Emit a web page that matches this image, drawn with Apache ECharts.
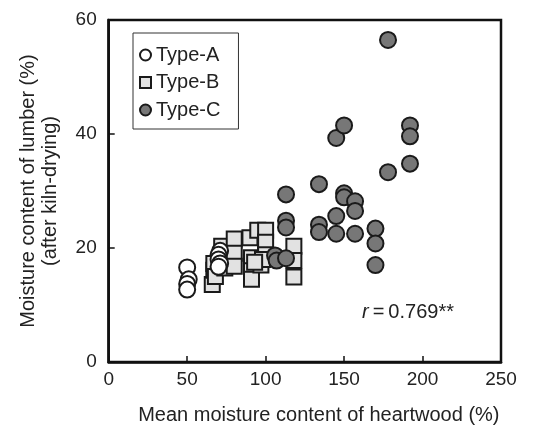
<!DOCTYPE html>
<html>
<head>
<meta charset="utf-8">
<script src="https://cdn.jsdelivr.net/npm/echarts@6/dist/echarts.min.js"></script>
<style>html,body{margin:0;padding:0;background:#fff}#c{width:552px;height:430px}</style>
</head>
<body>
<div id="c"></div>
<script>
const seriesNames = ['Type-A', 'Type-B', 'Type-C'];
const xTicks = [0, 50, 100, 150, 200, 250];
const yTicks = [0, 20, 40, 60];
const typeA = [[50,16.6],[51,14.5],[50,13.7],[50,12.7],[71,19.5],[70,18.8],[70,18.0],[71,17.3],[70,16.7]];
const typeB = [[66,13.6],[67,16.1],[67,17.3],[68,15.0],[72,20.3],[73,17.5],[74,16.5],[80,21.6],[80,19.1],[80,16.8],
  [90,21.8],[91,18.3],[91,16.0],[91,14.5],[95,23.1],[100,23.1],[100,21.0],[100,18.8],[97,17.0],[98,18.0],[93,17.5],
  [118,20.3],[118,17.8],[118,14.9]];
const typeC = [[106,18.7],[107,17.8],[113,18.2],[113,24.8],[113,23.6],[113,29.4],[134,31.2],[134,24.1],[134,22.8],
  [145,39.3],[145,25.6],[145,22.5],[150,41.5],[150,29.6],[150,28.9],[157,28.2],[157,26.5],[157,22.5],
  [170,23.4],[170,20.8],[170,17.0],[178,33.3],[178,56.5],[192,41.5],[192,39.6],[192,34.8]];
const statText = '0.769**';

const font = 'Liberation Sans, Arial, sans-serif';
const chart = echarts.init(document.getElementById('c'), null, {renderer: 'canvas'});
const edge = '#1a1a1a';
function mk(name, data, symbol, fill, z) {
  return {name, type: 'scatter', data, symbol, symbolSize: symbol === 'rect' ? 15 : 16, z,
    itemStyle: {color: fill, borderColor: edge, borderWidth: 2, opacity: 1}};
}
chart.setOption({
  animation: false,
  textStyle: {fontFamily: font},
  grid: {left: 108.7, right: 51, top: 20, bottom: 65, show: true, borderColor: '#111', borderWidth: 2.5, backgroundColor: 'transparent'},
  xAxis: {type: 'value', min: xTicks[0], max: xTicks[xTicks.length-1], interval: 50,
    name: 'Mean moisture content of heartwood (%)', nameLocation: 'middle', nameGap: 43,
    nameTextStyle: {fontSize: 20, color: '#222', fontFamily: font, padding: [0, 0, 0, 28]},
    axisLine: {show: true, lineStyle: {color: '#111', width: 2.5}},
    axisTick: {show: true, inside: true, length: 6, lineStyle: {color: '#111', width: 1.5}},
    axisLabel: {fontSize: 19, color: '#222', margin: 8, fontFamily: font},
    splitLine: {show: false}},
  yAxis: {type: 'value', min: yTicks[0], max: yTicks[yTicks.length-1], interval: 20,
    name: 'Moisture content of lumber (%)\n(after kiln-drying)', nameLocation: 'middle', nameGap: 47, nameRotate: 90,
    nameTextStyle: {fontSize: 20, color: '#222', lineHeight: 22, fontFamily: font},
    axisLine: {show: true, lineStyle: {color: '#111', width: 2.5}},
    axisTick: {show: true, inside: true, length: 6, lineStyle: {color: '#111', width: 1.5}},
    axisLabel: {fontSize: 19, color: '#222', margin: 12, fontFamily: font},
    splitLine: {show: false}},
  legend: {orient: 'vertical', left: 133, top: 33, data: seriesNames,
    itemWidth: 11, itemHeight: 11, itemGap: 7.5, padding: [12, 18, 9, 6],
    borderColor: '#333', borderWidth: 1, backgroundColor: '#fff',
    textStyle: {fontSize: 20, color: '#222', lineHeight: 20, fontFamily: font}},
  series: [
    mk(seriesNames[0], typeA, 'circle', '#ffffff', 4),
    mk(seriesNames[1], typeB, 'rect', '#e2e2e2', 2),
    mk(seriesNames[2], typeC, 'circle', '#777777', 3)
  ],
  graphic: [{type: 'text', left: 362, top: 302, z: 10,
    style: {text: '{i|r}\u2009=\u2009' + statText, fontSize: 20, fill: '#222', fontFamily: font,
      rich: {i: {fontStyle: 'italic', fontSize: 20, fill: '#222', fontFamily: font}}}}]
});
</script>
</body>
</html>
